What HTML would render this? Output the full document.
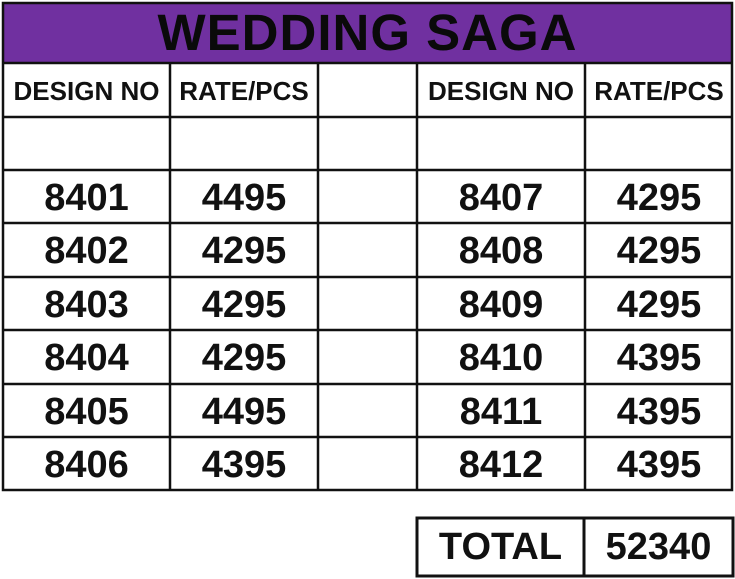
<!DOCTYPE html>
<html><head><style>
body{margin:0;width:735px;height:579px;background:#fff;position:relative;overflow:hidden;font-family:"Liberation Sans",sans-serif;}
.t{position:absolute;font-weight:bold;color:#111;text-align:center;}
.h{font-size:26px;}
.n{font-size:38px;}
</style></head><body>
<svg width="735" height="579" style="position:absolute;left:0;top:0">
<rect x="3" y="3" width="729" height="59" fill="#7030A0"/>
<g stroke="#111" stroke-width="2.5" fill="none">
<rect x="3" y="3" width="729" height="487"/>
<line x1="3" y1="63" x2="732" y2="63"/>
<line x1="3" y1="117" x2="732" y2="117"/>
<line x1="3" y1="170" x2="732" y2="170"/>
<line x1="3" y1="223" x2="732" y2="223"/>
<line x1="3" y1="277" x2="732" y2="277"/>
<line x1="3" y1="330" x2="732" y2="330"/>
<line x1="3" y1="384" x2="732" y2="384"/>
<line x1="3" y1="437" x2="732" y2="437"/>
<line x1="170" y1="63" x2="170" y2="490"/>
<line x1="318" y1="63" x2="318" y2="490"/>
<line x1="417" y1="63" x2="417" y2="490"/>
<line x1="585" y1="63" x2="585" y2="490"/>
<rect x="417" y="518" width="316" height="58" stroke-width="3"/>
<line x1="584" y1="518" x2="584" y2="576" stroke-width="3"/>
</g>
</svg>
<div class="t" style="left:3px;width:729px;top:6px;font-size:51px;line-height:54px;letter-spacing:1px;color:#0a0a0a">WEDDING SAGA</div>
<div class="t h" style="left:3px;width:167px;top:76px">DESIGN NO</div>
<div class="t h" style="left:170px;width:148px;top:76px">RATE/PCS</div>
<div class="t h" style="left:417px;width:168px;top:76px">DESIGN NO</div>
<div class="t h" style="left:585px;width:148px;top:76px">RATE/PCS</div>
<div class="t n" style="left:3px;width:167px;top:172px;line-height:53.4px">8401<br>8402<br>8403<br>8404<br>8405<br>8406</div>
<div class="t n" style="left:170px;width:148px;top:172px;line-height:53.4px">4495<br>4295<br>4295<br>4295<br>4495<br>4395</div>
<div class="t n" style="left:417px;width:168px;top:172px;line-height:53.4px">8407<br>8408<br>8409<br>8410<br>8411<br>8412</div>
<div class="t n" style="left:585px;width:148px;top:172px;line-height:53.4px">4295<br>4295<br>4295<br>4395<br>4395<br>4395</div>
<div class="t n" style="left:417px;width:167px;top:525px;line-height:44px">TOTAL</div>
<div class="t n" style="left:584px;width:149px;top:525px;line-height:44px">52340</div>
</body></html>
